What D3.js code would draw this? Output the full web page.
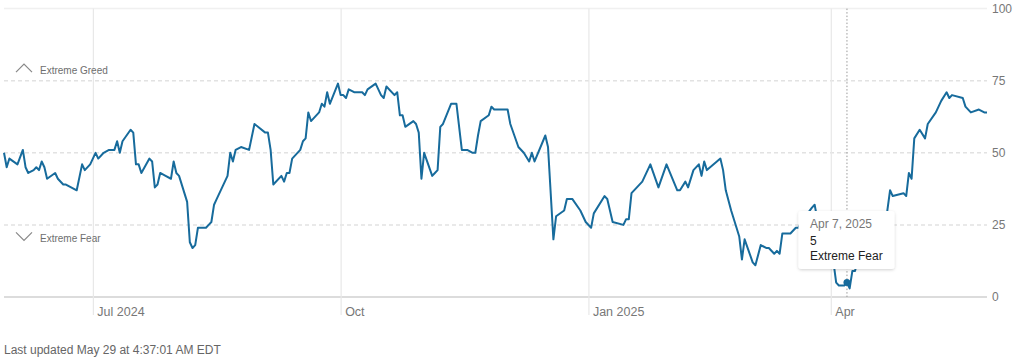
<!DOCTYPE html>
<html>
<head>
<meta charset="utf-8">
<script src="https://cdn.jsdelivr.net/npm/d3@7"></script>
<style>
	body { margin: 0; background: #fff; }
	svg { display: block; font-family: "Liberation Sans", Arial, sans-serif; }
</style>
</head>
<body>
<svg id="chart" width="1024" height="361"></svg>
<script>
/* Fear & Greed index: [date, value] */
const series = [
	['2024-05-29', 50], ['2024-05-30', 45], ['2024-05-31', 48], ['2024-06-03', 46], ['2024-06-05', 51],
	['2024-06-06', 45], ['2024-06-07', 43], ['2024-06-09', 44], ['2024-06-10', 45], ['2024-06-11', 44],
	['2024-06-12', 47], ['2024-06-13', 45], ['2024-06-14', 41], ['2024-06-17', 43], ['2024-06-18', 41],
	['2024-06-20', 39], ['2024-06-21', 39], ['2024-06-25', 37], ['2024-06-27', 46], ['2024-06-28', 44],
	['2024-06-30', 46], ['2024-07-02', 50], ['2024-07-03', 48], ['2024-07-05', 50], ['2024-07-07', 51],
	['2024-07-09', 51], ['2024-07-10', 54], ['2024-07-11', 50], ['2024-07-12', 54], ['2024-07-15', 58],
	['2024-07-16', 57], ['2024-07-17', 46], ['2024-07-18', 46], ['2024-07-19', 43], ['2024-07-22', 48],
	['2024-07-23', 47], ['2024-07-24', 38], ['2024-07-25', 39], ['2024-07-26', 43], ['2024-07-28', 42],
	['2024-07-30', 41], ['2024-07-31', 47], ['2024-08-01', 43], ['2024-08-02', 42], ['2024-08-05', 33],
	['2024-08-06', 19], ['2024-08-07', 17], ['2024-08-08', 18], ['2024-08-09', 24], ['2024-08-12', 24],
	['2024-08-13', 25], ['2024-08-14', 26], ['2024-08-15', 32], ['2024-08-16', 34], ['2024-08-19', 40],
	['2024-08-20', 42], ['2024-08-21', 50], ['2024-08-22', 47], ['2024-08-23', 51], ['2024-08-25', 52],
	['2024-08-28', 51], ['2024-08-30', 60], ['2024-09-03', 57], ['2024-09-04', 57], ['2024-09-05', 51],
	['2024-09-06', 39], ['2024-09-09', 42], ['2024-09-10', 40], ['2024-09-11', 43], ['2024-09-12', 43],
	['2024-09-13', 48], ['2024-09-16', 51], ['2024-09-17', 54], ['2024-09-18', 55], ['2024-09-19', 64],
	['2024-09-20', 61], ['2024-09-23', 64], ['2024-09-24', 67], ['2024-09-25', 66], ['2024-09-26', 71],
	['2024-09-27', 67], ['2024-09-30', 74], ['2024-10-01', 70], ['2024-10-02', 70], ['2024-10-03', 69],
	['2024-10-04', 72], ['2024-10-06', 71], ['2024-10-09', 71], ['2024-10-10', 70], ['2024-10-11', 72],
	['2024-10-14', 74], ['2024-10-16', 70], ['2024-10-17', 69], ['2024-10-18', 73], ['2024-10-21', 70],
	['2024-10-22', 71], ['2024-10-23', 63], ['2024-10-24', 63], ['2024-10-25', 59], ['2024-10-28', 61],
	['2024-10-29', 60], ['2024-10-30', 57], ['2024-10-31', 41], ['2024-11-01', 50], ['2024-11-04', 42],
	['2024-11-05', 43], ['2024-11-06', 44], ['2024-11-07', 59], ['2024-11-08', 60], ['2024-11-11', 67],
	['2024-11-13', 67], ['2024-11-15', 51], ['2024-11-17', 51], ['2024-11-19', 50], ['2024-11-20', 50],
	['2024-11-21', 56], ['2024-11-22', 61], ['2024-11-25', 63], ['2024-11-26', 66], ['2024-11-27', 65],
	['2024-11-29', 65], ['2024-12-02', 65], ['2024-12-03', 60], ['2024-12-06', 52], ['2024-12-08', 50],
	['2024-12-10', 47], ['2024-12-11', 50], ['2024-12-12', 47], ['2024-12-16', 56], ['2024-12-17', 52],
	['2024-12-19', 20], ['2024-12-20', 28], ['2024-12-23', 30], ['2024-12-24', 34], ['2024-12-26', 34],
	['2024-12-29', 30], ['2024-12-31', 26], ['2025-01-02', 24], ['2025-01-03', 29], ['2025-01-07', 35],
	['2025-01-08', 34], ['2025-01-10', 26], ['2025-01-14', 25], ['2025-01-15', 27], ['2025-01-16', 27],
	['2025-01-17', 36], ['2025-01-21', 40], ['2025-01-24', 46], ['2025-01-27', 38], ['2025-01-30', 46],
	['2025-02-03', 37], ['2025-02-04', 37], ['2025-02-06', 40], ['2025-02-07', 38], ['2025-02-09', 44],
	['2025-02-11', 46], ['2025-02-12', 42], ['2025-02-13', 47], ['2025-02-14', 44], ['2025-02-19', 48],
	['2025-02-20', 44], ['2025-02-21', 37], ['2025-02-23', 30], ['2025-02-25', 24], ['2025-02-26', 21],
	['2025-02-27', 13], ['2025-02-28', 20], ['2025-03-03', 12], ['2025-03-04', 11], ['2025-03-06', 18],
	['2025-03-08', 17], ['2025-03-09', 17], ['2025-03-11', 15], ['2025-03-12', 16], ['2025-03-13', 15],
	['2025-03-14', 22], ['2025-03-17', 22], ['2025-03-19', 24], ['2025-03-20', 24], ['2025-03-21', 26],
	['2025-03-25', 31], ['2025-03-26', 32], ['2025-03-27', 27], ['2025-03-28', 25], ['2025-03-31', 21],
	['2025-04-01', 18], ['2025-04-02', 12], ['2025-04-03', 5], ['2025-04-04', 4], ['2025-04-06', 4],
	['2025-04-07', 5], ['2025-04-08', 3], ['2025-04-09', 9], ['2025-04-10', 9], ['2025-04-11', 13],
	['2025-04-14', 18], ['2025-04-15', 17], ['2025-04-16', 15], ['2025-04-17', 19], ['2025-04-21', 20],
	['2025-04-22', 30], ['2025-04-23', 37], ['2025-04-24', 35], ['2025-04-28', 36], ['2025-04-29', 35],
	['2025-04-30', 43], ['2025-05-01', 41], ['2025-05-02', 55], ['2025-05-04', 58], ['2025-05-06', 55],
	['2025-05-07', 60], ['2025-05-10', 64], ['2025-05-12', 68], ['2025-05-14', 71], ['2025-05-15', 69],
	['2025-05-16', 70], ['2025-05-20', 69], ['2025-05-21', 66], ['2025-05-23', 64], ['2025-05-26', 65],
	['2025-05-28', 64], ['2025-05-29', 64]
];

const xDomain = ['2024-05-29', '2025-05-29'];
const monthTicks = ['2024-07-01', '2024-10-01', '2025-01-01', '2025-04-01'];
const monthLabels = ['Jul 2024', 'Oct', 'Jan 2025', 'Apr'];
const yTicks = [0, 25, 50, 75, 100];
const zoneLabels = [{ text: 'Extreme Greed', value: 75, dir: 'up' }, { text: 'Extreme Fear', value: 25, dir: 'down' }];
const selected = { date: '2025-04-07', value: 5, rating: 'Extreme Fear', label: 'Apr 7, 2025' };
const updatedText = 'Last updated May 29 at 4:37:01 AM EDT';

const parse = d3.timeParse('%Y-%m-%d');
const data = series.map(([d, v]) => ({ date: parse(d), value: v }));

const plotLeft = 4, plotRight = 987, plotTop = 8.6, plotBottom = 297;
const lineColor = '#176b9c';

const svg = d3.select('#chart');

const x = d3.scaleTime().domain(xDomain.map(parse)).range([plotLeft, plotRight]);
const y = d3.scaleLinear().domain([0, 100]).range([plotBottom, plotTop]);

/* horizontal grid: dashed for the zones, solid top + base */
svg.append('g')
	.selectAll('line')
	.data(yTicks)
	.join('line')
	.attr('x1', plotLeft)
	.attr('x2', plotRight)
	.attr('y1', d => y(d))
	.attr('y2', d => y(d))
	.attr('stroke', d => d === 0 ? '#dcdcdc' : (d === 100 ? '#f0f0f0' : '#e2e2e2'))
	.attr('stroke-width', d => d === 0 ? 2 : 1.5)
	.attr('stroke-dasharray', d => (d === 0 || d === 100) ? null : '4,3');

/* month axis with gridlines going up to the top */
const xAxis = d3.axisBottom(x)
	.tickValues(monthTicks.map(parse))
	.tickFormat((d, i) => monthLabels[i])
	.tickSizeInner(-(315 - plotTop))
	.tickSizeOuter(0);

const gx = svg.append('g')
	.attr('transform', 'translate(0,315)')
	.call(xAxis);

gx.select('.domain').remove();
gx.selectAll('.tick line').attr('stroke', '#e8e8e8').attr('stroke-width', 1.2);
gx.selectAll('.tick text')
	.attr('x', 4)
	.attr('y', 1)
	.attr('dy', null)
	.attr('text-anchor', 'start')
	.attr('fill', '#777')
	.style('font-size', '12.5px');

/* value axis on the right */
const yAxis = d3.axisRight(y).tickValues(yTicks).tickSize(0).tickPadding(5);
const gy = svg.append('g')
	.attr('transform', `translate(${plotRight},0)`)
	.call(yAxis);
gy.select('.domain').remove();
gy.selectAll('text').attr('fill', '#777').style('font-size', '12px');

/* zone labels with chevrons */
zoneLabels.forEach(z => {
	const g = svg.append('g');
	if (z.dir === 'up') {
		const base = y(z.value) - 8.5;
		g.append('path')
			.attr('d', `M16,${base} L24,${base - 8} L32,${base}`)
			.attr('fill', 'none').attr('stroke', '#888').attr('stroke-width', 1.2);
		g.append('text').attr('x', 40).attr('y', base + 1.5).text(z.text);
	} else {
		const base = y(z.value) + 7.5;
		g.append('path')
			.attr('d', `M16,${base} L24,${base + 8} L32,${base}`)
			.attr('fill', 'none').attr('stroke', '#888').attr('stroke-width', 1.2);
		g.append('text').attr('x', 40).attr('y', base + 9.5).text(z.text);
	}
	g.select('text').attr('fill', '#6e6e6e').style('font-size', '10px');
});

/* hover rule */
const selX = x(parse(selected.date));
svg.append('line')
	.attr('x1', selX).attr('x2', selX)
	.attr('y1', plotTop).attr('y2', plotBottom)
	.attr('stroke', '#999')
	.attr('stroke-width', 1)
	.attr('stroke-dasharray', '1.5,2');

/* the index line */
const line = d3.line()
	.x(d => x(d.date))
	.y(d => y(d.value));

svg.append('path')
	.datum(data)
	.attr('fill', 'none')
	.attr('stroke', lineColor)
	.attr('stroke-width', 2)
	.attr('stroke-linejoin', 'round')
	.attr('d', line);

svg.append('circle')
	.attr('cx', selX)
	.attr('cy', y(selected.value))
	.attr('r', 3.5)
	.attr('fill', lineColor);

/* tooltip */
const defs = svg.append('defs');
const shadow = defs.append('filter').attr('id', 'shadow').attr('x', '-20%').attr('y', '-20%').attr('width', '140%').attr('height', '150%');
shadow.append('feDropShadow').attr('dx', 0).attr('dy', 1).attr('stdDeviation', 1.5).attr('flood-color', '#000').attr('flood-opacity', 0.18);

const tip = svg.append('g').attr('transform', `translate(${selX - 48.5},211)`);
tip.append('rect')
	.attr('width', 96)
	.attr('height', 58)
	.attr('rx', 3)
	.attr('fill', '#fff')
	.attr('filter', 'url(#shadow)');
tip.append('text').attr('x', 11.5).attr('y', 17).attr('fill', '#777').style('font-size', '12px').text(selected.label);
tip.append('text').attr('x', 11.5).attr('y', 34).attr('fill', '#222').style('font-size', '12px').text(selected.value);
tip.append('text').attr('x', 11.5).attr('y', 49).attr('fill', '#222').style('font-size', '12px').text(selected.rating);

/* footer */
svg.append('text')
	.attr('x', 4)
	.attr('y', 354)
	.attr('fill', '#666')
	.style('font-size', '12px')
	.text(updatedText);
</script>
</body>
</html>
